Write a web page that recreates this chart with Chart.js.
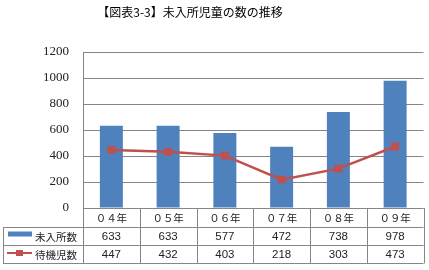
<!DOCTYPE html>
<html><head><meta charset="utf-8">
<script src="https://cdn.jsdelivr.net/npm/chart.js@4/dist/chart.umd.min.js"></script>
<style>html,body{margin:0;padding:0;background:#fff}#wrap{width:429px;height:270px;position:relative}</style>
</head><body><div id="wrap"><canvas id="c" width="429" height="270"></canvas></div>
<script>
const title = "【図表3-3】未入所児童の数の推移";
const categories = ["０４年","０５年","０６年","０７年","０８年","０９年"];
const seriesNames = ["未入所数","待機児数"];
const barValues = [633,633,577,472,738,978];
const lineValues = [447,432,403,218,303,473];
const yTicks = [0,200,400,600,800,1000,1200];

const BLUE = "#4F81BD", RED = "#C0504D", GRID = "#868686";

const tablePlugin = {
  id: "table",
  afterDraw(chart) {
    const ctx = chart.ctx, ca = chart.chartArea, xs = chart.scales.x;
    const top = ca.bottom, r1 = 227, r2 = 245, bot = 263, left = 3, right = ca.right;
    const n = categories.length;
    const w = (ca.right - ca.left) / n;
    ctx.save();
    ctx.strokeStyle = GRID; ctx.lineWidth = 1;
    ctx.beginPath();
    const h = v => Math.round(v) + 0.5;
    ctx.moveTo(ca.left, h(top)); ctx.lineTo(right, h(top));
    [r1, r2, bot].forEach(y => { ctx.moveTo(left, h(y)); ctx.lineTo(right, h(y)); });
    ctx.moveTo(h(left), r1); ctx.lineTo(h(left), bot + 0.5);
    for (let i = 0; i <= n; i++) {
      const x = h(ca.left + i * w);
      ctx.moveTo(x, top); ctx.lineTo(x, bot + 0.5);
    }
    ctx.stroke();
    ctx.fillStyle = "#222";
    ctx.textAlign = "center"; ctx.textBaseline = "middle";
    ctx.font = "10.5px 'Noto Sans CJK JP'";
    categories.forEach((c, i) => ctx.fillText(c, xs.getPixelForValue(i), (top + r1) / 2 + 1));
    ctx.font = "11.5px 'Liberation Sans', Arial";
    barValues.forEach((v, i) => ctx.fillText(String(v), xs.getPixelForValue(i), (r1 + r2) / 2 + 1));
    lineValues.forEach((v, i) => ctx.fillText(String(v), xs.getPixelForValue(i), (r2 + bot) / 2 + 1));
    // legend keys
    ctx.fillStyle = BLUE; ctx.fillRect(8, 231.5, 24, 5);
    ctx.strokeStyle = RED; ctx.lineWidth = 2;
    ctx.beginPath(); ctx.moveTo(7, 253); ctx.lineTo(32, 253); ctx.stroke();
    ctx.fillStyle = RED; ctx.fillRect(16, 250, 7, 6);
    ctx.fillStyle = "#222"; ctx.textAlign = "left";
    ctx.font = "10.5px 'Noto Sans CJK JP'";
    ctx.fillText(seriesNames[0], 35, (r1 + r2) / 2 + 1);
    ctx.fillText(seriesNames[1], 35, (r2 + bot) / 2 + 1);
    // title
    ctx.textAlign = "center";
    ctx.font = "12px 'Noto Sans CJK JP'";
    ctx.fillStyle = "#000";
    ctx.fillText(title, 190, 12);
    ctx.restore();
  }
};

new Chart(document.getElementById("c"), {
  data: {
    labels: categories,
    datasets: [
      { type: "line", label: seriesNames[1], data: lineValues, order: 0,
        borderColor: RED, backgroundColor: RED, borderWidth: 2.5,
        pointStyle: "rect", pointRadius: 5.5, pointBorderWidth: 0, tension: 0 },
      { type: "bar", label: seriesNames[0], data: barValues, order: 1,
        backgroundColor: BLUE, barPercentage: 1, categoryPercentage: 0.405 }
    ]
  },
  options: {
    responsive: false, animation: false, devicePixelRatio: 1,
    layout: { padding: { top: 52, bottom: 62, right: 5, left: 0 } },
    plugins: { legend: { display: false }, tooltip: { enabled: false }, title: { display: false } },
    scales: {
      x: { display: false, offset: true },
      y: {
        min: 0, max: 1200,
        afterBuildTicks(s) { s.ticks = yTicks.map(v => ({ value: v })); },
        afterFit(s) { s.width = 83; },
        grid: { color: GRID, drawTicks: false },
        border: { color: GRID },
        ticks: { padding: 14, color: "#222", callback: v => String(v),
                 font: { family: "'Liberation Serif', serif", size: 13 } }
      }
    }
  },
  plugins: [tablePlugin]
});
</script></body></html>
